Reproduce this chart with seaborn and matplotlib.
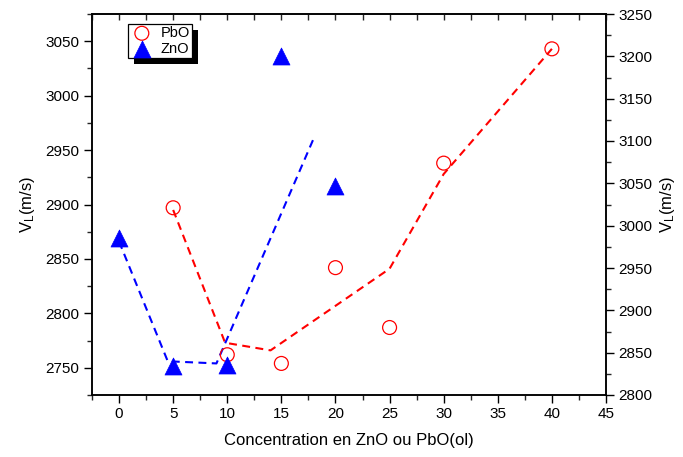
import matplotlib
matplotlib.use("Agg")
import matplotlib.pyplot as plt
import seaborn as sns
import pandas as pd
from matplotlib.ticker import MultipleLocator
from matplotlib.patches import Rectangle
from matplotlib.transforms import IdentityTransform

# ---- data ----
pbo_x = [5, 10, 15, 20, 25, 30, 40]
pbo_v = [2897, 2762, 2754, 2842, 2787, 2938, 3043]
zno_x = [0, 5, 10, 15, 20]
zno_v = [2869, 2752, 2753, 3036, 2917]
pbo_fit_x = [5, 9.8, 14, 25, 30, 40]
pbo_fit_v = [2895, 2773, 2766, 2841, 2928, 3043]
zno_fit_x = [0, 4.5, 9, 18]
zno_fit_v = [2866, 2756, 2754, 2961]
x_ticks = [0, 5, 10, 15, 20, 25, 30, 35, 40, 45]
left_ticks = [2750, 2800, 2850, 2900, 2950, 3000, 3050]
right_ticks = [2800, 2850, 2900, 2950, 3000, 3050, 3100, 3150, 3200, 3250]

sns.set_style("white")
plt.rcParams["font.family"] = ["Liberation Sans", "DejaVu Sans"]
plt.rcParams["mathtext.default"] = "regular"
plt.rcParams["text.color"] = "black"
plt.rcParams["axes.labelcolor"] = "black"

fig = plt.figure(figsize=(6.83, 4.57), dpi=100)
ax = fig.add_axes([92 / 683, 62 / 457, 514 / 683, 381 / 457])
ax2 = ax.twinx()
ax.set_zorder(ax2.get_zorder() + 1)
ax.patch.set_visible(False)

dash = (0, (3.8, 2.6))
sns.lineplot(x=pbo_fit_x, y=pbo_fit_v, ax=ax, sort=False, estimator=None,
             color="#ff0000", lw=1.5, linestyle=dash, legend=False)
sns.lineplot(x=zno_fit_x, y=zno_fit_v, ax=ax, sort=False, estimator=None,
             color="#0000ff", lw=1.5, linestyle=dash, legend=False)
sns.scatterplot(x=pbo_x, y=pbo_v, ax=ax, marker="o", s=100,
                facecolor="none", edgecolor="#ff0000", linewidth=0.9,
                label="PbO", zorder=3)
sns.scatterplot(x=zno_x, y=zno_v, ax=ax, marker="^", s=150,
                color="#0000ff", edgecolor="#0000ff", linewidth=0.5,
                label="ZnO", zorder=3)

ax.set_xlim(-2.5, 45)
ax.set_ylim(2725, 3075)
ax2.set_ylim(2800, 3250)
ax.set_xticks(x_ticks)
ax.set_yticks(left_ticks)
ax2.set_yticks(right_ticks)
ax.xaxis.set_minor_locator(MultipleLocator(2.5))
ax.yaxis.set_minor_locator(MultipleLocator(25))
ax2.yaxis.set_minor_locator(MultipleLocator(25))

for a in (ax, ax2):
    for s in a.spines.values():
        s.set_linewidth(1.1)
        s.set_color("black")
ax.tick_params(axis="both", which="major", direction="out", length=6,
               width=1.0, labelsize=11, colors="black", pad=3,
               top=False, right=False, left=True, bottom=True)
ax.tick_params(axis="both", which="minor", direction="out", length=3.5,
               width=1.0, top=False, right=False, left=True, bottom=True)
ax2.tick_params(axis="y", which="major", direction="out", length=6,
                width=1.0, labelsize=11, colors="black", pad=3, right=True)
ax2.tick_params(axis="y", which="minor", direction="out", length=3.5,
                width=1.0, right=True)

top = ax.secondary_xaxis("top")
top.set_xticks([i * 2.5 for i in range(-1, 19)])
top.tick_params(axis="x", direction="in", length=4, width=1.0,
                labeltop=False)
top.spines["top"].set_linewidth(1.1)

ax.set_xlabel("Concentration en ZnO ou PbO(ol)", fontsize=12, labelpad=8)
ax.set_ylabel("V$_L$(m/s)", fontsize=12, labelpad=6)
ax2.set_ylabel("V$_L$(m/s)", fontsize=12, labelpad=4)

leg = ax.legend(loc="upper left", bbox_to_anchor=(0.07, 0.974),
                borderaxespad=0, fontsize=10.5, frameon=True, fancybox=False,
                edgecolor="black", framealpha=1, handletextpad=0.5,
                borderpad=0.15, labelspacing=0.1, handlelength=1.6)
leg.get_frame().set_linewidth(0.9)
leg.set_zorder(6)
for t in leg.get_texts():
    t.set_color("black")

fig.canvas.draw()
bb = leg.get_window_extent()
shadow = Rectangle((bb.x0 + 6, bb.y0 - 6), bb.width, bb.height,
                   transform=IdentityTransform(), facecolor="black",
                   edgecolor="none", zorder=5.5, clip_on=False)
ax.add_artist(shadow)

fig.savefig("out.png", dpi=100)
